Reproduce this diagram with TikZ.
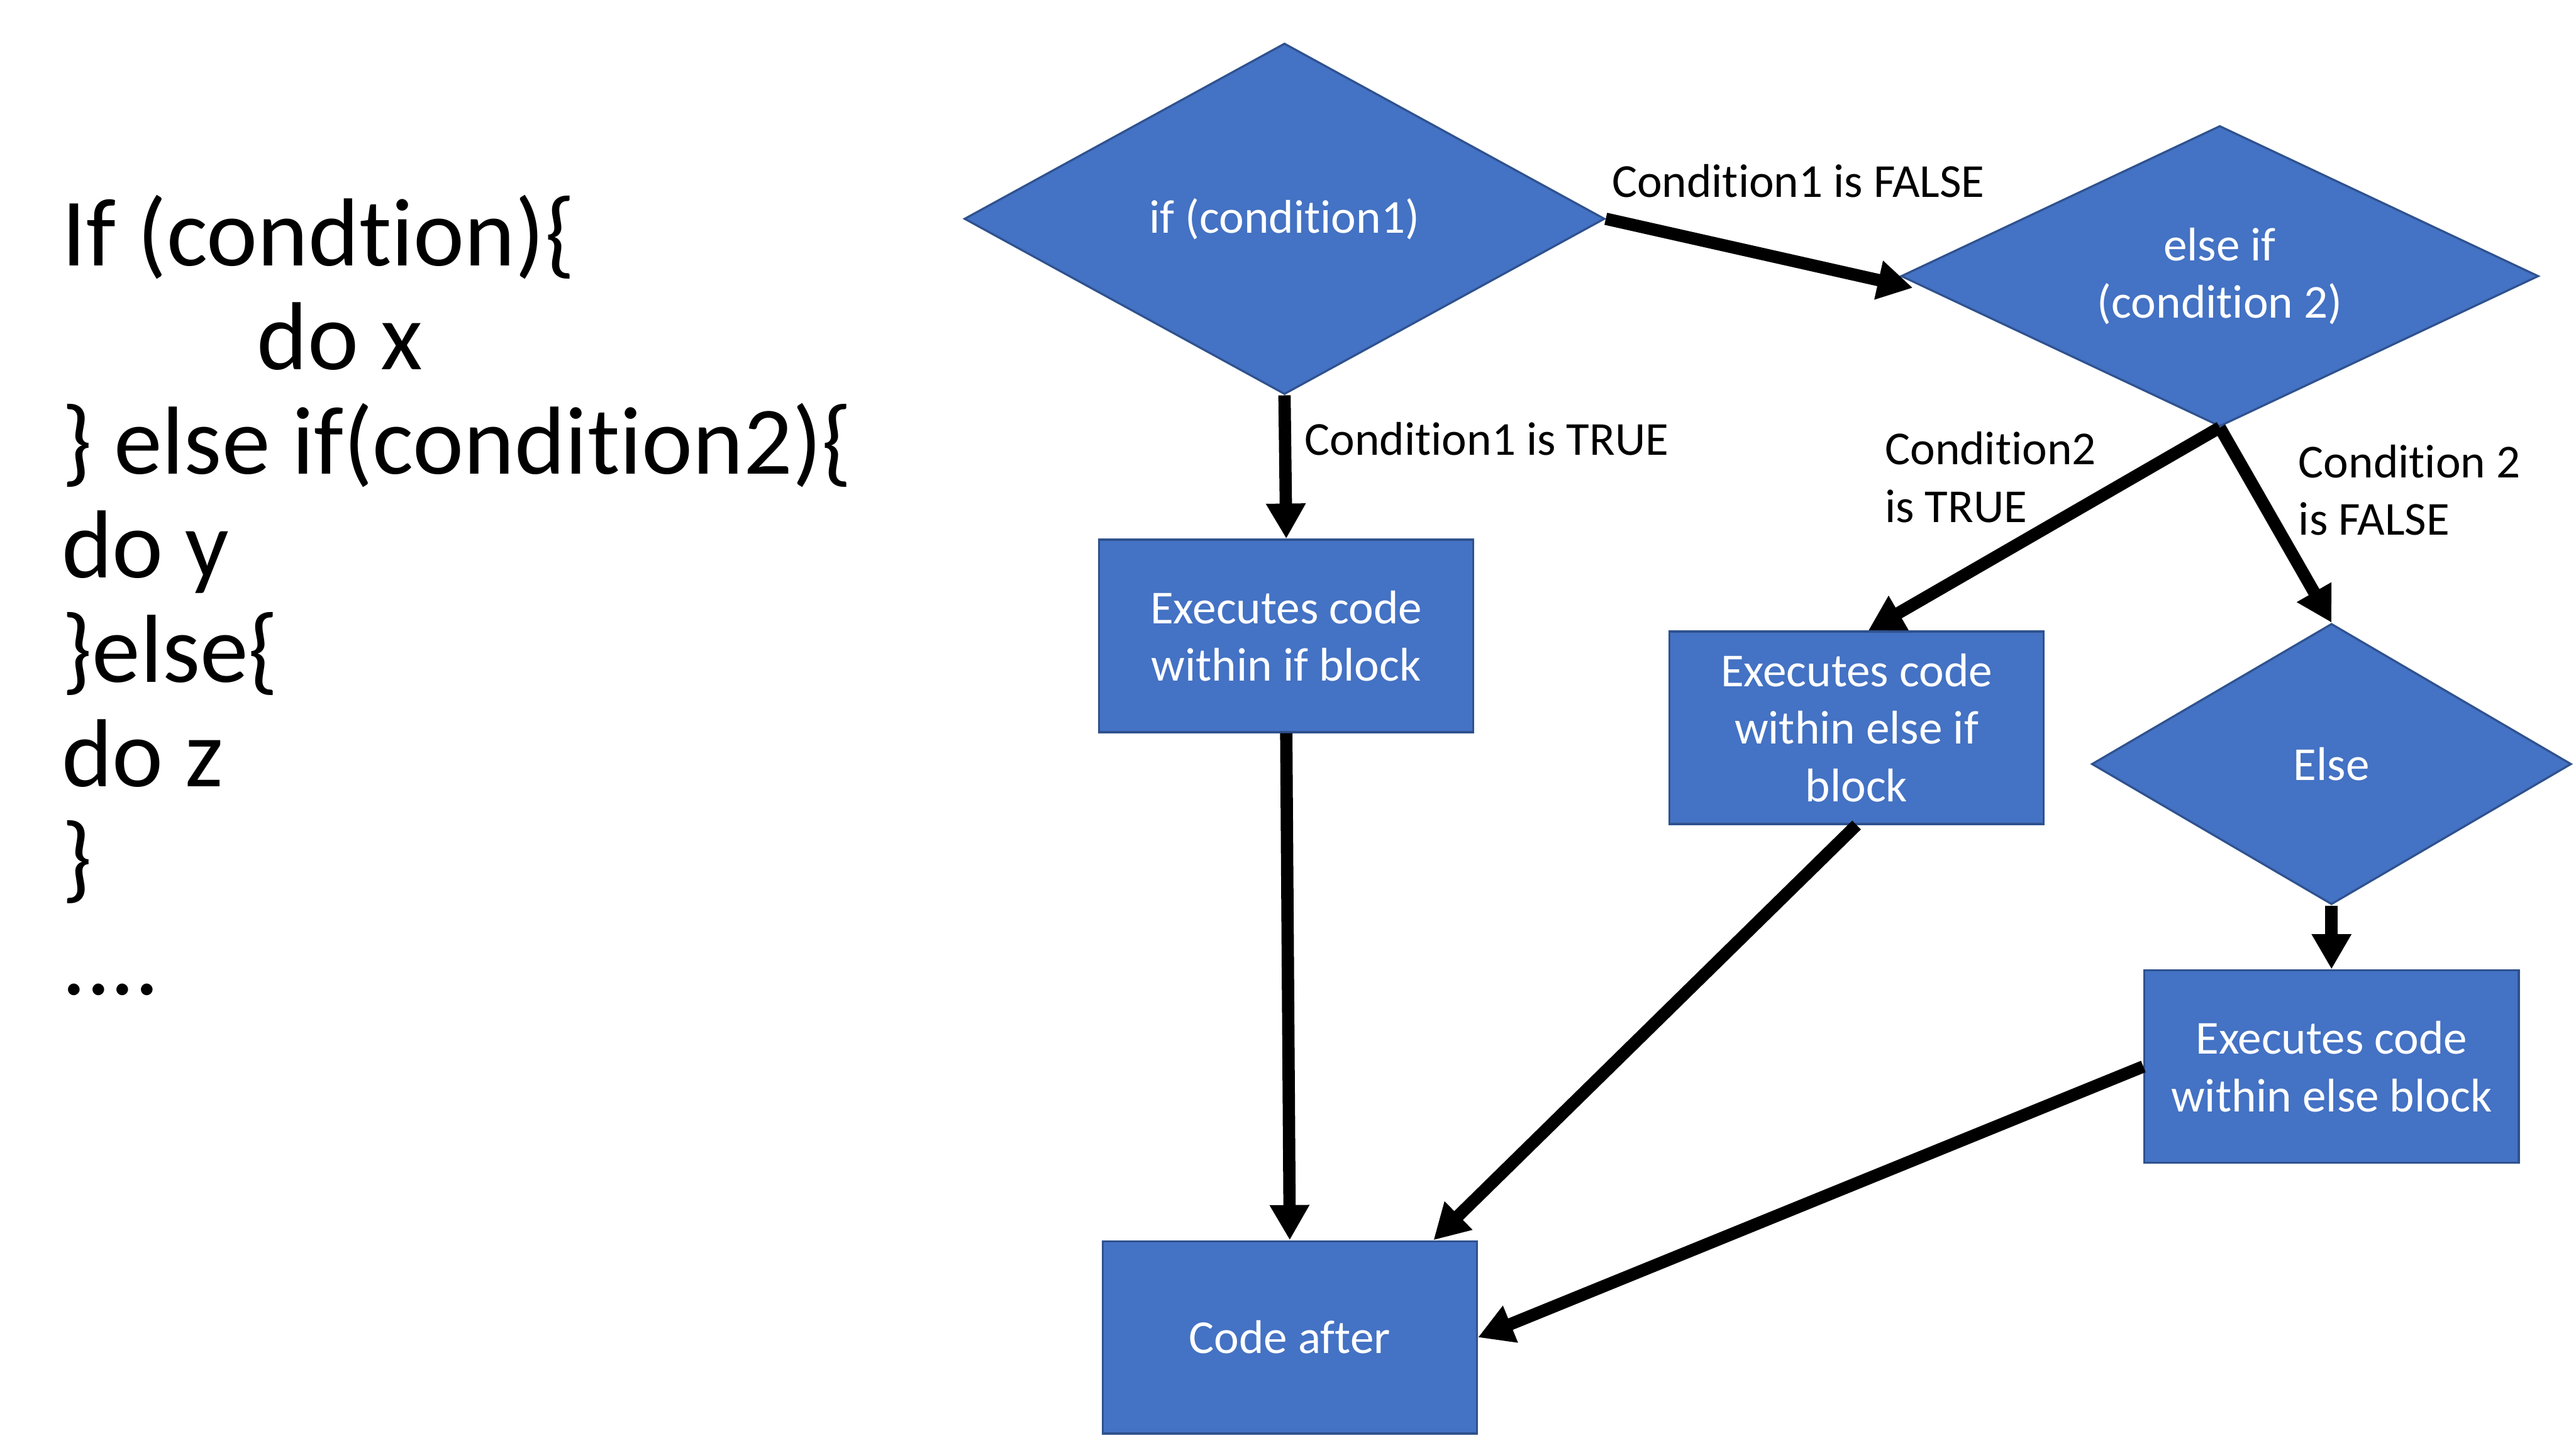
\documentclass[tikz,border=0pt]{standalone}
\usepackage{fontspec}
\setmainfont{Carlito}[Ligatures=NoCommon]
\usetikzlibrary{shapes.geometric, arrows.meta}

\definecolor{boxblue}{HTML}{4472C4}
\definecolor{boxedge}{HTML}{2F528F}

\tikzset{
    block/.style={rectangle, draw=boxedge, fill=boxblue, line width=1pt, text=white,
        minimum width=6.4cm, minimum height=3.29cm, align=center,
        font=\fontsize{23}{28}\selectfont},
    decision/.style={diamond, draw=boxedge, fill=boxblue, line width=1pt, text=white,
        inner sep=0pt, shape aspect=2.1, align=center, font=\fontsize{23}{28}\selectfont},
    flow/.style={-{Triangle[width=6.4mm,length=6mm]}, line width=6pt},
    condlabel/.style={anchor=west, align=left, inner sep=0pt, font=\fontsize{23}{28}\selectfont},
    codetext/.style={anchor=base west, inner sep=0pt, font=\fontsize{47}{50}\selectfont}
}

\begin{document}
\begin{tikzpicture}
    \useasboundingbox (0,0) rectangle (44.04,-24.75);

    %% Code listing
    \foreach \codeline [count=\i] in {{If (condtion)\{}, {\hspace*{3.34cm}do x}, {\} else if(condition2)\{},
        {do y}, {\}else\{}, {do z}, {\}}}
        \node[codetext] (code\i) at (1.05,{-4.54-1.78*(\i-1)}) {\codeline};
    \node[codetext] (code8) at (1.05,-17.0) {....};

    %% Decisions
    \node[decision, minimum width=10.95cm, minimum height=6.0cm] (if1) at (21.96,-3.74) {if (condition1)};
    \node[decision, minimum width=10.9cm, minimum height=5.14cm] (elif) at (37.95,-4.72) {else if\\(condition 2)};
    \node[decision, minimum width=8.2cm, minimum height=4.8cm] (else) at (39.86,-13.06) {Else};

    %% Blocks
    \node[block] (ifblock) at (21.99,-10.87) {Executes code\\within if block};
    \node[block] (elifblock) at (31.74,-12.44) {Executes code\\within else if\\block};
    \node[block] (elseblock) at (39.86,-18.23) {Executes code\\within else block};
    \node[block] (after) at (22.05,-22.86) {Code after};

    % Branches
    \draw[flow] (if1.east) -- ([shift={(0.22,-0.2)}]elif.west);
    \node[condlabel] (false1) at (27.55,-3.09) {Condition1 is FALSE};
    \draw[flow] (if1.south) -- (ifblock.north);
    \node[condlabel] (true1) at (22.3,-7.5) {Condition1 is TRUE};
    \draw[flow] (elif.south) -- ([xshift=0.2cm]elifblock.north);
    \node[condlabel] (true2) at (32.22,-8.16) {Condition2\\is TRUE};
    \draw[flow] (elif.south) -- (else.north);
    \node[condlabel] (false2) at (39.29,-8.38) {Condition 2\\is FALSE};
    \draw[flow] (else.south) -- (elseblock.north);

    % Joins into the code after
    \draw[flow] (ifblock.south) -- (after.north);
    \draw[flow] (elifblock.south) -- ([xshift=-0.76cm]after.north east);
    \draw[flow] (elseblock.west) -- (after.east);

\end{tikzpicture}
\end{document}
